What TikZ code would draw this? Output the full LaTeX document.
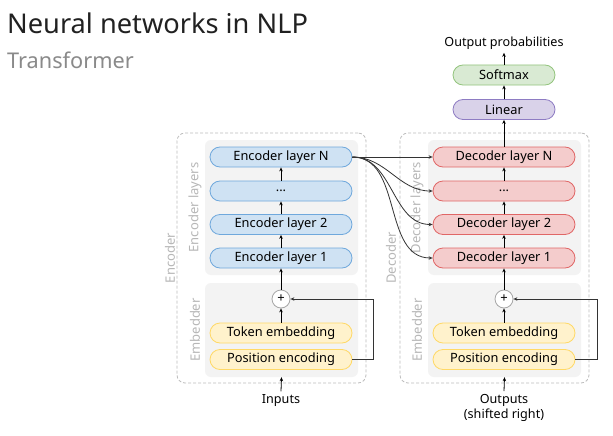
\documentclass[tikz,border=0pt]{standalone}
\usepackage{fontspec}
\setmainfont{Noto Sans}
\usetikzlibrary{arrows.meta}
\definecolor{encf}{HTML}{CFE2F3}\definecolor{encd}{HTML}{6FA8DC}
\definecolor{decf}{HTML}{F4CCCC}\definecolor{decd}{HTML}{E06666}
\definecolor{embf}{HTML}{FFF2CC}\definecolor{embd}{HTML}{FFD966}
\definecolor{smf}{HTML}{D9EAD3}\definecolor{smd}{HTML}{93C47D}
\definecolor{linf}{HTML}{D9D2E9}\definecolor{lind}{HTML}{8E7CC3}
\definecolor{grayf}{HTML}{F3F3F3}\definecolor{dashc}{HTML}{BDBDBD}
\definecolor{lbl}{HTML}{B7B7B7}\definecolor{ttl}{HTML}{212121}
\definecolor{sub}{HTML}{8A8A8A}\definecolor{conn}{HTML}{333333}
\begin{document}
\begin{tikzpicture}[x=1pt,y=-1pt,
  pill/.style={draw, line width=0.8pt, rounded corners=10pt, minimum width=142pt, minimum height=20pt, inner sep=0pt, font=\fontsize{12.8}{14}\selectfont},
  enclayer/.style={pill, fill=encf, draw=encd},
  declayer/.style={pill, fill=decf, draw=decd},
  emblayer/.style={pill, fill=embf, draw=embd},
  smbox/.style={pill, fill=smf, draw=smd, minimum width=102pt},
  linbox/.style={pill, fill=linf, draw=lind, minimum width=102pt},
  graybox/.style={fill=grayf, rounded corners=6pt, minimum width=153pt, inner sep=0pt},
  dashbox/.style={draw=dashc, dash pattern=on 3pt off 2pt, line width=0.8pt, rounded corners=8pt, minimum width=189pt, minimum height=250pt, inner sep=0pt},
  sidelbl/.style={rotate=90, text=lbl, font=\fontsize{13}{15}\selectfont},
  txt/.style={font=\fontsize{12.6}{14.5}\selectfont, text=black, align=center},
  arr/.style={-{Stealth[length=4pt,width=3.5pt]}, line width=0.8pt, black},
  carr/.style={-{Stealth[length=4pt,width=3.5pt]}, line width=0.8pt, conn},
  plusc/.style={circle, draw=gray!70, line width=0.8pt, fill=white, minimum size=18pt, inner sep=0pt, font=\fontsize{13}{13}\selectfont}
]
\useasboundingbox (0,0) rectangle (613,436);
\fill[white] (0,0) rectangle (613,436);

% Title
\node[anchor=base west, inner sep=0pt, text=ttl, font=\fontsize{27.2}{30}\selectfont] (title) at (7,34) {Neural networks in NLP};
\node[anchor=base west, inner sep=0pt, text=sub, font=\fontsize{21.7}{24}\selectfont] (subtitle) at (7,68) {Transformer};

% Encoder
\node[dashbox] (encbox) at (271.5,258) {};
\node[graybox, minimum height=135pt] (encL) at (281.5,207.5) {};
\node[graybox, minimum height=94pt] (encE) at (281.5,330) {};
\node[sidelbl] (enclbl) at (170,258) {Encoder};
\node[sidelbl] (enclayerslbl) at (195,207.5) {Encoder layers};
\node[sidelbl] (encemblbl) at (195,330) {Embedder};

\node[enclayer] (eN) at (281,157) {Encoder layer N};
\node[enclayer] (eD) at (281,191) {...};
\node[enclayer] (e2) at (281,224.5) {Encoder layer 2};
\node[enclayer] (e1) at (281,258) {Encoder layer 1};
\node[plusc] (ep) at (281,299) {+};
\node[emblayer] (etok) at (281,333) {Token embedding};
\node[emblayer] (epos) at (281,359.5) {Position encoding};
\node[txt] (inputs) at (281,401) {Inputs};
\coordinate (ecor) at (373,359.5);

\draw[arr] (inputs.north) -- (encE.south);
\draw[arr] (etok.north) -- (ep.south);
\draw[arr] (ep.north) -- (e1.south);
\draw[arr] (e1.north) -- (e2.south);
\draw[arr] (e2.north) -- (eD.south);
\draw[arr] (eD.north) -- (eN.south);
\draw[carr] (epos.east) -- (ecor) |- (ep.east);

% Decoder
\node[dashbox] (decbox) at (494.5,258) {};
\node[graybox, minimum height=135pt] (decL) at (504.5,207.5) {};
\node[graybox, minimum height=94pt] (decE) at (504.5,330) {};
\node[sidelbl] (declbl) at (391,258) {Decoder};
\node[sidelbl] (declayerslbl) at (417,207.5) {Decoder layers};
\node[sidelbl] (decemblbl) at (417,330) {Embedder};

\node[declayer] (dN) at (504,157) {Decoder layer N};
\node[declayer] (dD) at (504,191) {...};
\node[declayer] (d2) at (504,224.5) {Decoder layer 2};
\node[declayer] (d1) at (504,258) {Decoder layer 1};
\node[plusc] (dp) at (504,299) {+};
\node[emblayer] (dtok) at (504,333) {Token embedding};
\node[emblayer] (dpos) at (504,359.5) {Position encoding};
\node[txt] (outputs) at (504,408) {Outputs\\(shifted right)};
\coordinate (dcor) at (597,359.5);

\node[linbox] (lin) at (504,109.5) {Linear};
\node[smbox] (sm) at (504,75) {Softmax};
\node[txt] (outprob) at (504,43) {Output probabilities};

\draw[arr] (outputs.north) -- (decE.south);
\draw[arr] (dtok.north) -- (dp.south);
\draw[arr] (dp.north) -- (d1.south);
\draw[arr] (d1.north) -- (d2.south);
\draw[arr] (d2.north) -- (dD.south);
\draw[arr] (dD.north) -- (dN.south);
\draw[arr] (dN.north) -- (lin.south);
\draw[arr] (lin.north) -- (sm.south);
\draw[arr] (sm.north) -- (outprob.south);
\draw[carr] (dpos.east) -- (dcor) |- (dp.east);

% Cross connections
\draw[carr] (eN.east) -- (dN.west);
\draw[carr] (eN.east) to[out=0,in=180] (dD.west);
\draw[carr] (eN.east) to[out=0,in=180] (d2.west);
\draw[carr] (eN.east) to[out=0,in=180] (d1.west);
\end{tikzpicture}
\end{document}
